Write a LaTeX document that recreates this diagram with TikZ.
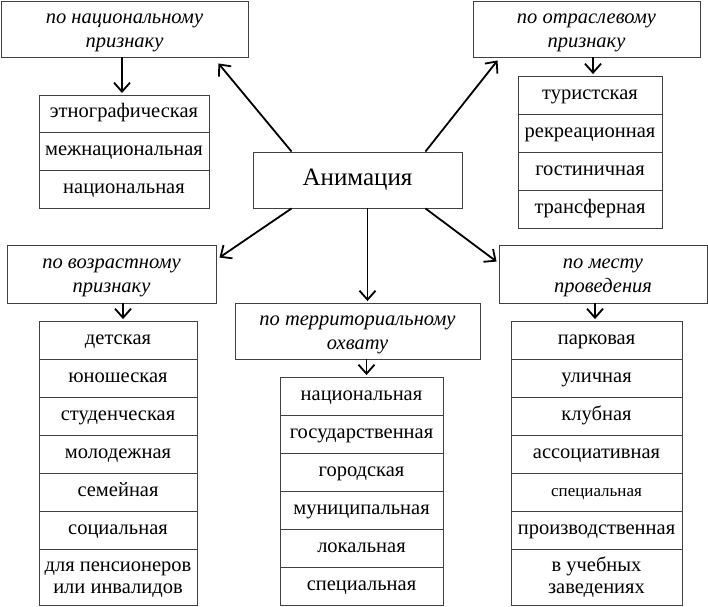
\documentclass[tikz,border=0pt]{standalone}
\usepackage{fontspec}
\setmainfont{Liberation Serif}
\usetikzlibrary{arrows.meta}
\newcommand\hdstrut{\rule[-6pt]{0pt}{24pt}}
\newcommand\clstrut{\rule[-5.5pt]{0pt}{22pt}}
\begin{document}
\begin{tikzpicture}[x=1pt,y=-1pt,
  box/.style={draw=black!75, line width=0.9pt, rectangle, inner sep=0pt, align=center,
    font=\fontsize{20.5}{22}\selectfont},
  head/.style={box, font=\fontsize{20.5}{24}\selectfont\itshape, minimum height=56pt},
  cell/.style={box, minimum height=38pt, text height=13pt, text depth=5pt},
  cell2/.style={box, minimum height=56pt},
  arr/.style={line width=1.8pt, -{Straight Barb[length=9pt,width=16pt,line width=1.8pt]}}]
\useasboundingbox (0,0) rectangle (708,606);
% centre
\node[box, minimum width=209pt, minimum height=56pt, font=\fontsize{25}{28}\selectfont] (anim) at (357.5,180) {Анимация};
% headers
\node[head, minimum width=247pt] (h1) at (124.5,29) {\hdstrut по национальному\\\hdstrut признаку};
\node[head, minimum width=227pt] (h2) at (586.5,29) {\hdstrut по отраслевому\\\hdstrut признаку};
\node[head, minimum width=209pt, minimum height=58pt] (h3) at (111.5,274) {\hdstrut по возрастному\\\hdstrut признаку};
\node[head, minimum width=208pt, minimum height=58pt] (h4) at (603,274) {\hdstrut по месту\\\hdstrut проведения};
\node[head, minimum width=245pt] (h5) at (357.5,331) {\hdstrut по территориальному\\\hdstrut охвату};
% list 1
\node[cell, minimum width=170pt, minimum height=37.7pt] (n1) at (124,113.8) {этнографическая};
\node[cell, minimum width=170pt, minimum height=37.7pt] (n2) at (124,151.5) {межнациональная};
\node[cell, minimum width=170pt, minimum height=37.7pt] (n3) at (124,189.2) {национальная};
% list 2
\node[cell, minimum width=144pt] (o1) at (590,95) {туристская};
\node[cell, minimum width=144pt] (o2) at (590,133) {рекреационная};
\node[cell, minimum width=144pt] (o3) at (590,171) {гостиничная};
\node[cell, minimum width=144pt] (o4) at (590,209) {трансферная};
% territorial list
\node[cell, minimum width=163pt] (t1) at (361.5,396) {национальная};
\node[cell, minimum width=163pt] (t2) at (361.5,434) {государственная};
\node[cell, minimum width=163pt] (t3) at (361.5,472) {городская};
\node[cell, minimum width=163pt] (t4) at (361.5,510) {муниципальная};
\node[cell, minimum width=163pt] (t5) at (361.5,548) {локальная};
\node[cell, minimum width=163pt] (t6) at (361.5,586) {специальная};
% age list
\node[cell, minimum width=158pt] (a1) at (118,340) {детская};
\node[cell, minimum width=158pt] (a2) at (118,378) {юношеская};
\node[cell, minimum width=158pt] (a3) at (118,416) {студенческая};
\node[cell, minimum width=158pt] (a4) at (118,454) {молодежная};
\node[cell, minimum width=158pt] (a5) at (118,492) {семейная};
\node[cell, minimum width=158pt] (a6) at (118,530) {социальная};
\node[cell2, minimum width=158pt] (a7) at (118,577) {\clstrut для пенсионеров\\\clstrut или инвалидов};
% place list
\node[cell, minimum width=171pt] (p1) at (596.5,340) {парковая};
\node[cell, minimum width=171pt] (p2) at (596.5,378) {уличная};
\node[cell, minimum width=171pt] (p3) at (596.5,416) {клубная};
\node[cell, minimum width=171pt] (p4) at (596.5,454) {ассоциативная};
\node[cell, minimum width=171pt, font=\fontsize{17}{20}\selectfont] (p5) at (596.5,492) {специальная};
\node[cell, minimum width=171pt] (p6) at (596.5,530) {производственная};
\node[cell2, minimum width=171pt] (p7) at (596.5,577) {\clstrut в учебных\\\clstrut заведениях};
% arrows from centre
\draw[arr] ([xshift=39pt]anim.north west) -- ([xshift=-30pt,yshift=-6pt]h1.south east);
\draw[arr] ([xshift=-37pt]anim.north east) -- ([xshift=25pt,yshift=-3pt]h2.south west);
\draw[arr] ([xshift=39pt]anim.south west) -- ([xshift=3pt,yshift=-13pt]h3.north east);
\draw[arr] ([xshift=-37pt]anim.south east) -- ([xshift=-2pt,yshift=-17pt]h4.north west);
\draw[arr] ([xshift=10pt]anim.south) -- ([xshift=10pt,yshift=1.5pt]h5.north);
% arrows to lists
\draw[arr] ([xshift=-2pt]n1.north |- h1.south) -- ([xshift=-2pt,yshift=1.5pt]n1.north);
\draw[arr] ([xshift=3pt]o1.north |- h2.south) -- ([xshift=3pt,yshift=1.5pt]o1.north);
\draw[arr] ([xshift=5pt]t1.north |- h5.south) -- ([xshift=5pt,yshift=1.5pt]t1.north);
\draw[arr] ([xshift=5pt]a1.north |- h3.south) -- ([xshift=5pt,yshift=1.5pt]a1.north);
\draw[arr] ([xshift=-1.5pt]p1.north |- h4.south) -- ([xshift=-1.5pt,yshift=1.5pt]p1.north);
\end{tikzpicture}
\end{document}
